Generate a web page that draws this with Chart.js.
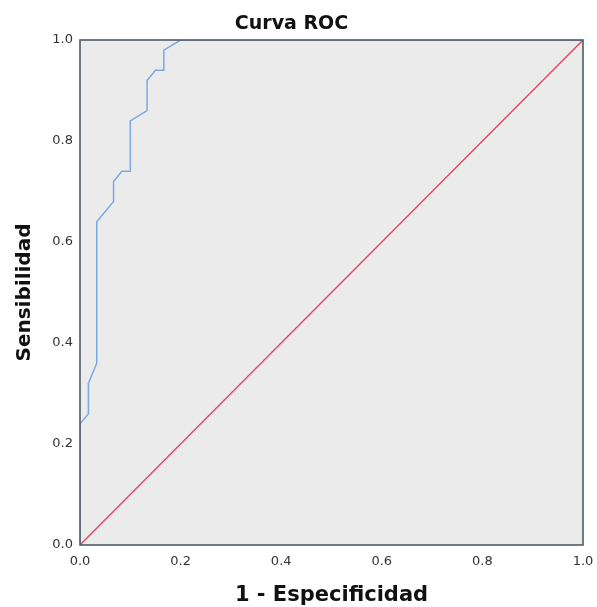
<!DOCTYPE html>
<html><head><meta charset="utf-8">
<script src="https://cdn.jsdelivr.net/npm/chart.js@4/dist/chart.umd.min.js"></script>
<style>html,body{margin:0;padding:0;background:#fff}#wrap{width:597px;height:607px}</style>
</head><body><div id="wrap"><canvas id="c" width="597" height="607"></canvas></div>
<script>
const rocX = [0, 0, 0.0167, 0.0167, 0.0333, 0.0333, 0.0667, 0.0667, 0.0833, 0.1, 0.1, 0.1333, 0.1333, 0.15, 0.1667, 0.1667, 0.2, 1];
const rocY = [0, 0.24, 0.26, 0.32, 0.36, 0.64, 0.68, 0.72, 0.74, 0.74, 0.84, 0.86, 0.92, 0.94, 0.94, 0.98, 1.0, 1.0];
const diagX = [0, 1];
const diagY = [0, 1];
const tickValues = [0, 0.2, 0.4, 0.6, 0.8, 1.0];
const titleText = 'Curva ROC';
const xTitle = '1 - Especificidad';
const yTitle = 'Sensibilidad';

const areaPlugin = {
  id: 'area',
  beforeDatasetsDraw(chart) {
    const {ctx, chartArea: a} = chart;
    ctx.save();
    ctx.fillStyle = '#ebebeb';
    ctx.fillRect(a.left, a.top, a.right - a.left, a.bottom - a.top);
    ctx.restore();
  },
  afterDraw(chart) {
    const {ctx, chartArea: a} = chart;
    ctx.save();
    ctx.strokeStyle = '#535a66';
    ctx.lineWidth = 1.6;
    ctx.strokeRect(a.left, a.top, a.right - a.left, a.bottom - a.top);
    ctx.restore();
  }
};

const pts = (xs, ys) => xs.map((x, i) => ({x, y: ys[i]}));

new Chart(document.getElementById('c'), {
  type: 'scatter',
  data: {
    datasets: [
      {data: pts(rocX, rocY), showLine: true, borderColor: '#7ba9e3', borderWidth: 1.5, pointRadius: 0, tension: 0, fill: false},
      {data: pts(diagX, diagY), showLine: true, borderColor: '#e0405f', borderWidth: 1.3, pointRadius: 0, tension: 0, fill: false}
    ]
  },
  options: {
    responsive: false,
    animation: false,
    layout: {padding: {left: 0, right: 14, top: 0, bottom: 0}},
    plugins: {
      legend: {display: false},
      tooltip: {enabled: false},
      title: {display: true, text: titleText, color: '#111',
        font: {family: 'DejaVu Sans', size: 19, weight: 'bold', lineHeight: 1.2},
        padding: {top: 12.6, bottom: 4.6}}
    },
    scales: {
      x: {
        type: 'linear', min: 0, max: 1,
        afterBuildTicks: s => { s.ticks = tickValues.map(v => ({value: v})); },
        ticks: {callback: v => v.toFixed(1), color: '#333', font: {family: 'DejaVu Sans', size: 13}, padding: 9, maxRotation: 0},
        grid: {display: false, drawTicks: false},
        border: {display: false},
        title: {display: true, text: xTitle, color: '#111', font: {family: 'DejaVu Sans', size: 21, weight: 'bold', lineHeight: 1.2}, padding: {top: 0, bottom: -1}},
        afterFit: s => { s.height = 62; s.paddingLeft = 0; s.paddingRight = 0; }
      },
      y: {
        type: 'linear', min: 0, max: 1,
        afterBuildTicks: s => { s.ticks = tickValues.map(v => ({value: v})); },
        ticks: {callback: v => v.toFixed(1), color: '#333', font: {family: 'DejaVu Sans', size: 13}, padding: 7},
        grid: {display: false, drawTicks: false},
        border: {display: false},
        title: {display: true, text: yTitle, color: '#111', font: {family: 'DejaVu Sans', size: 20, weight: 'bold', lineHeight: 1.2}, padding: {top: 13, bottom: 0}},
        afterFit: s => { s.width = 80; s.paddingTop = 0; s.paddingBottom = 0; }
      }
    }
  },
  plugins: [areaPlugin]
});
</script></body></html>
